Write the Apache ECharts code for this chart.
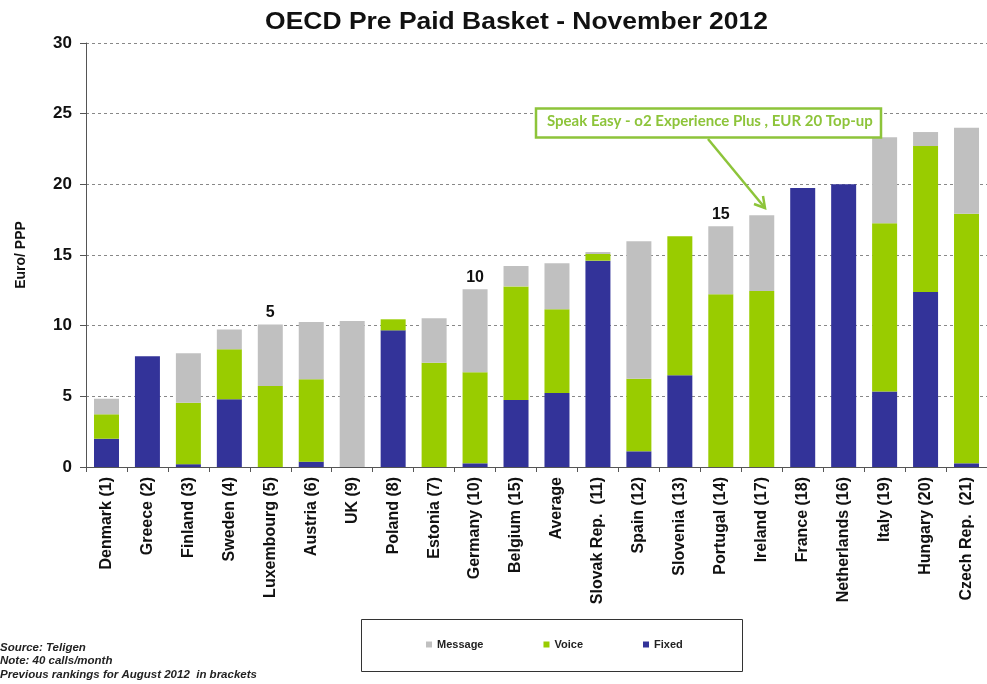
<!DOCTYPE html>
<html>
<head>
<meta charset="utf-8">
<script src="https://cdn.jsdelivr.net/npm/echarts@6/dist/echarts.min.js"></script>
<style>
html,body{margin:0;padding:0;background:#fff;}
#chart{width:987px;height:684px;}
</style>
</head>
<body>
<div id="chart"></div>
<script>
const categories = ["Denmark (1)", "Greece (2)", "Finland (3)", "Sweden (4)", "Luxembourg (5)", "Austria (6)", "UK (9)", "Poland (8)", "Estonia (7)", "Germany (10)", "Belgium (15)", "Average", "Slovak Rep.  (11)", "Spain (12)", "Slovenia (13)", "Portugal (14)", "Ireland (17)", "France (18)", "Netherlands (16)", "Italy (19)", "Hungary (20)", "Czech Rep.  (21)"];
const fixed   = [2.0, 7.83, 0.2, 4.8, 0, 0.38, 0, 9.67, 0, 0.26, 4.74, 5.24, 14.6, 1.11, 6.49, 0, 0, 19.74, 20.0, 5.35, 12.38, 0.26];
const voice   = [1.73, 0, 4.35, 3.53, 5.73, 5.82, 0, 0.78, 7.38, 6.44, 8.04, 5.92, 0.47, 5.14, 9.83, 12.22, 12.45, 0, 0, 11.89, 10.33, 17.66];
const message = [1.1, 0, 3.5, 1.4, 4.36, 4.06, 10.33, 0, 3.14, 5.87, 1.44, 3.25, 0.14, 9.72, 0, 4.81, 5.36, 0, 0, 6.09, 0.99, 6.08];
const rankLabels = ["", "", "", "", "5", "", "", "", "", "10", "", "", "", "", "", "15", "", "", "", "", "", ""];
const yTicks = [0, 5, 10, 15, 20, 25, 30];
const titleText = "OECD Pre Paid Basket - November 2012";
const annotationText = "Speak Easy - o2 Experience Plus , EUR 20 Top-up";
const noteLines = ["Source: Teligen", "Note: 40 calls/month", "Previous rankings for August 2012  in brackets"];

const FONT = "'Liberation Sans', Arial, sans-serif";
const C_MSG = '#C0C0C0', C_VOICE = '#99CC00', C_FIXED = '#333399';
const C_ANN = '#8DC43A';

const chart = echarts.init(document.getElementById('chart'), null, {renderer: 'canvas'});

const messageData = message.map((v, i) => rankLabels[i] ? {
  value: v,
  label: {show: true, position: 'top', distance: 4, formatter: rankLabels[i],
          fontFamily: FONT, fontWeight: 'bold', fontSize: 16, color: '#111'}
} : v);

const option = {
  animation: false,
  backgroundColor: '#fff',
  legend: {
    data: ['Message', 'Voice', 'Fixed'],
    left: 426, top: 639, padding: 0,
    icon: 'rect', itemWidth: 6, itemHeight: 6, itemGap: 60,
    textStyle: {fontFamily: FONT, fontWeight: 'bold', fontSize: 11, color: '#222'}
  },
  grid: {left: 86, top: 43, width: 912, height: 424, containLabel: false},
  xAxis: {
    type: 'category', data: categories,
    axisLine: {show: true, lineStyle: {color: '#555', width: 1}},
    axisTick: {show: true, length: 5, lineStyle: {color: '#555'}},
    axisLabel: {rotate: 90, margin: 10, interval: 0, fontFamily: FONT, fontWeight: 'bold', fontSize: 16, color: '#111'}
  },
  yAxis: {
    type: 'value', min: 0, max: 30, interval: 5,
    name: 'Euro/ PPP', nameLocation: 'middle', nameGap: 58, nameRotate: 90,
    nameTextStyle: {fontFamily: FONT, fontWeight: 'bold', fontSize: 14, color: '#111'},
    axisLine: {show: true, lineStyle: {color: '#555', width: 1}},
    axisTick: {show: true, length: 6, lineStyle: {color: '#555'}},
    axisLabel: {margin: 14, fontFamily: FONT, fontWeight: 'bold', fontSize: 17, color: '#111',
      formatter: v => yTicks.indexOf(v) >= 0 ? String(v) : ''},
    splitLine: {show: true, lineStyle: {color: '#888', type: [3, 3], width: 1}}
  },
  series: [
    {name: 'Fixed', type: 'bar', stack: 'total', data: fixed, barWidth: 25, itemStyle: {color: C_FIXED}},
    {name: 'Voice', type: 'bar', stack: 'total', data: voice, barWidth: 25, itemStyle: {color: C_VOICE}},
    {name: 'Message', type: 'bar', stack: 'total', data: messageData, barWidth: 25, itemStyle: {color: C_MSG}}
  ],
  graphic: [
    {type: 'text', x: 516.5, y: 22.5, scaleX: 1.15, z: 20,
     style: {text: titleText, x: 0, y: 0, textAlign: 'center', textVerticalAlign: 'middle', align: 'center', verticalAlign: 'middle',
             font: 'bold 23px ' + FONT, fill: '#111'}},
    {type: 'rect', shape: {x: 361.5, y: 619.5, width: 381, height: 52}, style: {fill: 'none', stroke: '#333', lineWidth: 1}, z: 1},
    {type: 'text', left: 0, top: 641, style: {text: noteLines.join('\n'), font: 'italic bold 11.5px ' + FONT, fill: '#222', lineHeight: 13.5}},
    {type: 'rect', shape: {x: 536, y: 108.5, width: 345, height: 29}, style: {fill: '#fff', stroke: C_ANN, lineWidth: 2.5}, z: 10},
    {type: 'text', left: 547, top: 114, style: {text: annotationText, font: 'bold 15px Lato, "Open Sans", sans-serif', fill: C_ANN}, z: 11},
    {type: 'line', shape: {x1: 708, y1: 139, x2: 765, y2: 208}, style: {stroke: C_ANN, lineWidth: 2.5}, z: 10},
    {type: 'polyline', shape: {points: [[763, 196], [765, 208], [754, 204]]}, style: {stroke: C_ANN, lineWidth: 2.5, fill: 'none'}, z: 10}
  ]
};
chart.setOption(option);
</script>
</body>
</html>
